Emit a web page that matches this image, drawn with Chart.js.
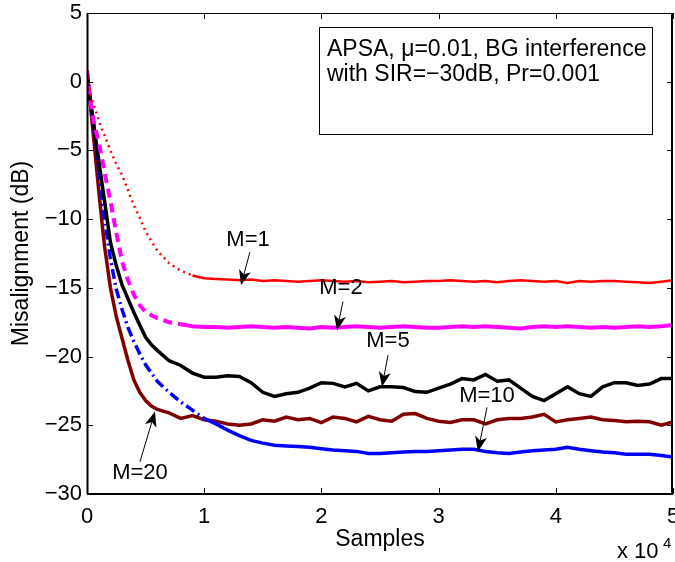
<!DOCTYPE html>
<html>
<head>
<meta charset="utf-8">
<script src="https://cdn.jsdelivr.net/npm/chart.js@4.4.1/dist/chart.umd.min.js"></script>
<style>
  body { margin: 0; background: #fff; }
  canvas { display: block; }
</style>
</head>
<body>
<canvas id="misChart" width="675" height="562"></canvas>
<script>
// sample positions (samples)
const samples = [0, 250, 500, 750, 1000, 1250, 1500, 2000, 2500, 3000, 3500, 4000, 4500, 5000, 5500, 6000, 7000, 8000, 9000, 10000,
  11000, 12000, 13000, 14000, 15000, 16000, 17000, 18000, 19000, 20000,
  21000, 22000, 23000, 24000, 25000, 26000, 27000, 28000, 29000, 30000,
  31000, 32000, 33000, 34000, 35000, 36000, 37000, 38000, 39000, 40000,
  41000, 42000, 43000, 44000, 45000, 46000, 47000, 48000, 49000, 50000];

// misalignment in dB for each projection order M
const misM1 = [0.8, -0.8, -1.5, -2.1, -2.8, -3.4, -3.9, -5.0, -6.0, -6.8, -7.9, -9.0, -9.9, -10.9, -11.6, -12.3, -13.2, -13.75, -14.1, -14.3,
  -14.35, -14.4, -14.45, -14.4, -14.5, -14.45, -14.5, -14.55, -14.5, -14.45,
  -14.5, -14.55, -14.5, -14.6, -14.55, -14.5, -14.6, -14.55, -14.5, -14.5,
  -14.45, -14.5, -14.55, -14.5, -14.6, -14.5, -14.45, -14.5, -14.55, -14.5,
  -14.65, -14.5, -14.55, -14.5, -14.5, -14.55, -14.6, -14.65, -14.55, -14.45];
const misM2 = [0.8, -1.2, -2.6, -3.55, -4.4, -5.45, -6.6, -8.7, -11.0, -13.1, -14.45, -15.5, -16.25, -16.75, -17.0, -17.2, -17.5, -17.65, -17.8, -17.85,
  -17.85, -17.9, -17.85, -17.8, -17.85, -17.9, -17.85, -17.9, -17.95, -17.85,
  -17.9, -17.85, -17.8, -17.85, -17.9, -17.85, -17.8, -17.85, -17.9, -17.9,
  -17.85, -17.8, -17.85, -17.8, -17.85, -17.9, -17.95, -17.85, -17.8, -17.85,
  -17.8, -17.85, -17.9, -17.85, -17.9, -17.85, -17.8, -17.85, -17.8, -17.7];
const misM5 = [0.8, -1.2, -2.6, -4.2, -5.7, -7.2, -8.7, -11.7, -13.4, -14.8, -15.8, -16.8, -17.7, -18.6, -19.15, -19.55, -20.3, -20.65, -21.2, -21.5,
  -21.5, -21.4, -21.45, -21.9, -22.6, -22.9, -22.7, -22.6, -22.3, -21.9,
  -21.95, -22.2, -21.95, -22.5, -22.2, -22.2, -22.25, -22.55, -22.6, -22.3,
  -22.0, -21.6, -21.7, -21.3, -21.8, -21.7, -22.3, -22.9, -23.2, -22.7,
  -22.2, -22.7, -22.9, -22.2, -21.9, -21.9, -22.1, -22.0, -21.6, -21.6];
const misM10 = [0.8, -1.0, -2.8, -4.6, -6.6, -8.4, -10.0, -12.9, -15.1, -16.6, -17.9, -18.9, -19.8, -20.6, -21.2, -21.8, -22.6, -23.3, -23.9, -24.5,
  -24.9, -25.35, -25.75, -26.1, -26.3, -26.45, -26.5, -26.55, -26.6, -26.7,
  -26.8, -26.85, -26.9, -27.05, -27.05, -27.0, -26.95, -26.9, -26.9, -26.85,
  -26.8, -26.75, -26.75, -26.9, -27.0, -27.05, -26.95, -26.85, -26.8, -26.75,
  -26.6, -26.75, -26.85, -26.95, -27.0, -27.1, -27.1, -27.1, -27.2, -27.3];
const misM20 = [0.8, -1.4, -3.5, -5.7, -7.9, -10.0, -12.0, -15.0, -17.1, -18.7, -20.3, -21.7, -22.6, -23.2, -23.6, -23.85, -24.1, -24.5, -24.3, -24.6,
  -24.7, -24.9, -25.0, -24.9, -24.6, -24.7, -24.4, -24.6, -24.5, -24.8,
  -24.4, -24.5, -24.75, -24.35, -24.6, -24.7, -24.2, -24.15, -24.5, -24.7,
  -24.8, -24.6, -24.6, -24.9, -24.6, -24.5, -24.5, -24.4, -24.2, -24.75,
  -24.6, -24.5, -24.4, -24.6, -24.65, -24.75, -24.7, -24.75, -25.0, -24.75];

const xTicks = [0, 10000, 20000, 30000, 40000, 50000];
const yTicks = [-30, -25, -20, -15, -10, -5, 0, 5];

const infoLines = ['APSA, \u03bc=0.01, BG interference', 'with SIR=\u221230dB, Pr=0.001'];

// curve labels: text anchor and arrow (start -> tip), in data units
const curveLabels = [
  { text: 'M=1',  tx: 13740, ty: -11.5,  ax: 13900, ay: -12.4,  bx: 13140, by: -14.8 },
  { text: 'M=2',  tx: 21670, ty: -15.0,  ax: 21840, ay: -16.0,  bx: 21330, by: -18.1 },
  { text: 'M=5',  tx: 25680, ty: -18.85, ax: 25680, ay: -19.9,  bx: 25170, by: -22.2 },
  { text: 'M=10', tx: 34130, ty: -22.85, ax: 34130, ay: -23.7,  bx: 33360, by: -26.9 },
  { text: 'M=20', tx: 4520,  ty: -28.45, ax: 4520,  ay: -27.65, bx: 5800,  by: -24.0 }
];

const FONT = '"Liberation Sans", Arial, Helvetica, sans-serif';
const toPts = vals => samples.map((x, i) => ({ x: x, y: vals[i] }));
const dashUntil = (limit, dash) => ctx => (ctx.p0.parsed.x < limit ? dash : undefined);

function drawArrow(ctx, x0, y0, x1, y1) {
  const ang = Math.atan2(y1 - y0, x1 - x0);
  const len = 15, half = 6, back = 11;
  ctx.beginPath();
  ctx.moveTo(x0, y0);
  ctx.lineTo(x1 - Math.cos(ang) * back, y1 - Math.sin(ang) * back);
  ctx.stroke();
  ctx.save();
  ctx.translate(x1, y1);
  ctx.rotate(ang);
  ctx.beginPath();
  ctx.moveTo(0, 0);
  ctx.lineTo(-len, -half);
  ctx.lineTo(-back, 0);
  ctx.lineTo(-len, half);
  ctx.closePath();
  ctx.fill();
  ctx.restore();
}

const framePlugin = {
  id: 'frame',
  afterDraw(chart) {
    const { ctx, chartArea: a, scales } = chart;
    const xs = scales.x, ys = scales.y;
    ctx.save();
    ctx.strokeStyle = '#000';
    ctx.fillStyle = '#000';
    ctx.lineWidth = 1;
    // axes box
    ctx.strokeRect(Math.round(a.left) + 0.5, Math.round(a.top) + 0.5,
      Math.round(a.right - a.left) - 1, Math.round(a.bottom - a.top));
    ctx.lineWidth = 2;
    ctx.beginPath();
    ctx.moveTo(a.left, a.bottom); ctx.lineTo(a.right, a.bottom);
    ctx.moveTo(a.left + 0.5, a.top); ctx.lineTo(a.left + 0.5, a.bottom);
    ctx.moveTo(a.right - 1, a.top); ctx.lineTo(a.right - 1, a.bottom);
    ctx.stroke();
    // inward ticks
    ctx.lineWidth = 1;
    const tl = 6;
    ctx.beginPath();
    xTicks.forEach(v => {
      const px = Math.round(xs.getPixelForValue(v)) + 0.5;
      ctx.moveTo(px, a.bottom); ctx.lineTo(px, a.bottom - tl);
      ctx.moveTo(px, a.top); ctx.lineTo(px, a.top + tl);
    });
    yTicks.forEach(v => {
      const py = Math.round(ys.getPixelForValue(v)) + 0.5;
      ctx.moveTo(a.left, py); ctx.lineTo(a.left + tl, py);
      ctx.moveTo(a.right, py); ctx.lineTo(a.right - tl, py);
    });
    ctx.stroke();

    // info box
    ctx.lineWidth = 1;
    ctx.strokeRect(319.5, 27.5, 333, 107);
    ctx.font = '23px ' + FONT;
    ctx.textAlign = 'left';
    ctx.textBaseline = 'alphabetic';
    ctx.fillText(infoLines[0], 327, 56);
    ctx.fillText(infoLines[1], 327, 81);

    // curve labels with arrows
    ctx.font = '22px ' + FONT;
    ctx.textAlign = 'center';
    ctx.textBaseline = 'middle';
    curveLabels.forEach(l => {
      ctx.fillText(l.text, xs.getPixelForValue(l.tx), ys.getPixelForValue(l.ty));
      drawArrow(ctx, xs.getPixelForValue(l.ax), ys.getPixelForValue(l.ay),
        xs.getPixelForValue(l.bx), ys.getPixelForValue(l.by));
    });

    // exponent label
    ctx.textAlign = 'left';
    ctx.textBaseline = 'alphabetic';
    ctx.font = '22px ' + FONT;
    ctx.fillText('x 10', 617, 558);
    ctx.font = '15px ' + FONT;
    ctx.fillText('4', 663, 548);
    ctx.restore();
  }
};

const ctx = document.getElementById('misChart').getContext('2d');

const misChart = new Chart(ctx, {
  type: 'line',
  data: {
    datasets: [
      {
        label: 'M=1', data: toPts(misM1), borderColor: '#ff0000', borderWidth: 2.5,
        segment: { borderDash: dashUntil(9000, [2, 4]) }
      },
      {
        label: 'M=2', data: toPts(misM2), borderColor: '#ff00ff', borderWidth: 4,
        segment: { borderDash: dashUntil(8000, [9, 6]) }
      },
      {
        label: 'M=5', data: toPts(misM5), borderColor: '#000000', borderWidth: 3.5
      },
      {
        label: 'M=10', data: toPts(misM10), borderColor: '#0000ff', borderWidth: 3.5,
        segment: { borderDash: dashUntil(10000, [10, 4, 2, 4]) }
      },
      {
        label: 'M=20', data: toPts(misM20), borderColor: '#800000', borderWidth: 3.5
      }
    ]
  },
  options: {
    responsive: false,
    animation: false,
    devicePixelRatio: 1,
    layout: { padding: { top: 13, right: 2, left: 0, bottom: 0 } },
    elements: { point: { radius: 0 }, line: { tension: 0, borderCapStyle: 'butt' } },
    plugins: { legend: { display: false }, tooltip: { enabled: false } },
    scales: {
      x: {
        type: 'linear', min: 0, max: 50000,
        grid: { display: false, drawTicks: false },
        border: { display: false },
        ticks: {
          stepSize: 10000, padding: 10, color: '#000', maxRotation: 0,
          font: { family: FONT, size: 22 },
          callback: v => String(v / 10000)
        },
        title: {
          display: true, text: 'Samples', color: '#000',
          font: { family: FONT, size: 23 }, padding: { top: 0, bottom: 9 }
        },
        afterFit: s => { s.height = 68; s.paddingLeft = 0; s.paddingRight = 0; }
      },
      y: {
        min: -30, max: 5,
        grid: { display: false, drawTicks: false },
        border: { display: false },
        ticks: {
          stepSize: 5, padding: 5, color: '#000',
          font: { family: FONT, size: 22 },
          callback: v => String(v).replace('-', '\u2212')
        },
        title: {
          display: true, text: 'Misalignment (dB)', color: '#000',
          font: { family: FONT, size: 23 }, padding: { top: 8, bottom: 0 }
        },
        afterFit: s => { s.width = 87; s.paddingTop = 0; s.paddingBottom = 0; }
      }
    }
  },
  plugins: [framePlugin]
});
</script>
</body>
</html>
